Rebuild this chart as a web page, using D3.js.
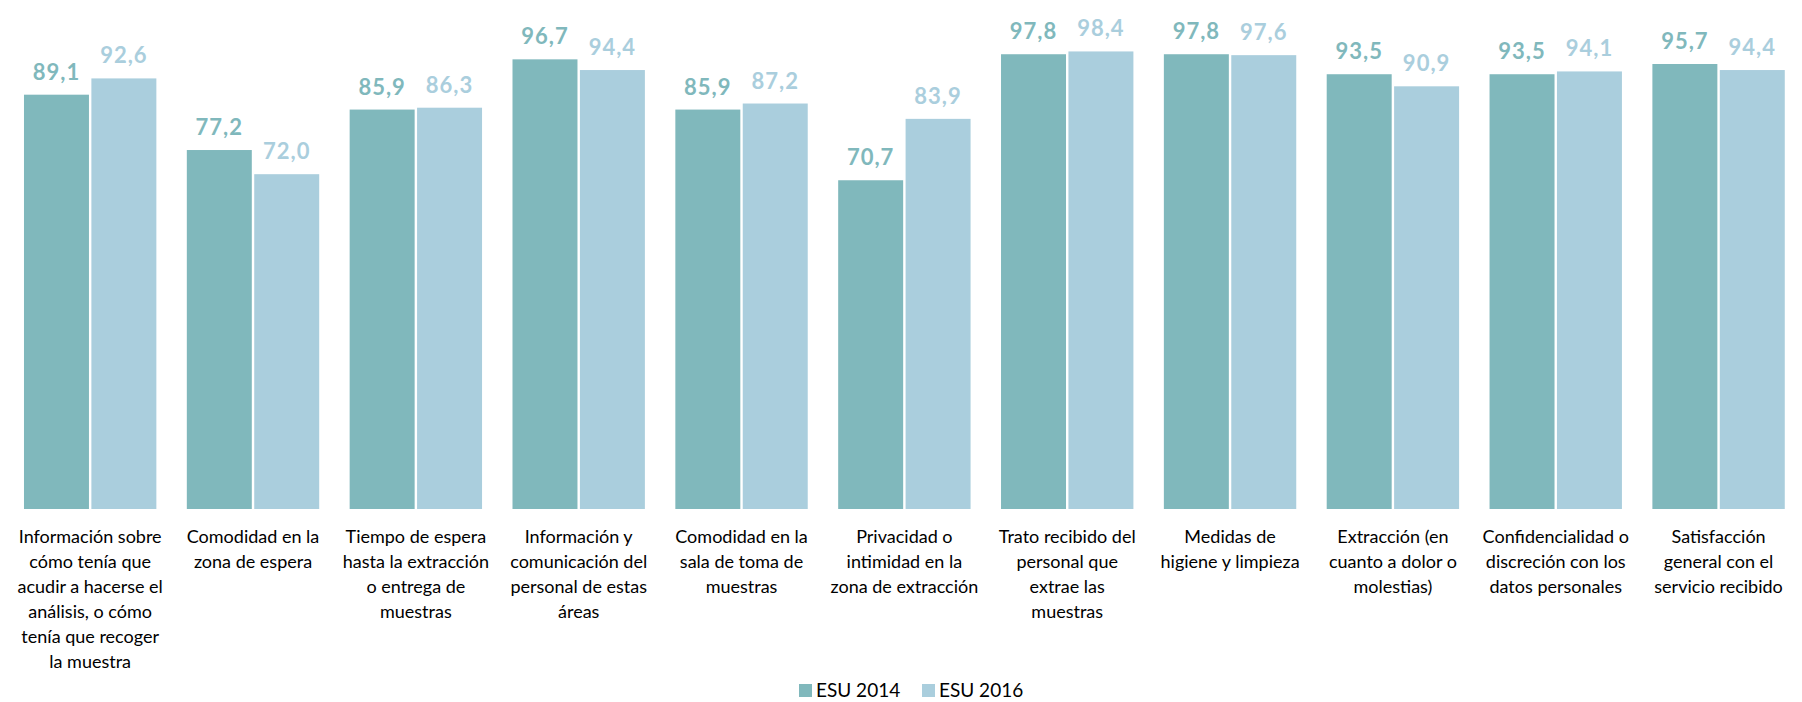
<!DOCTYPE html>
<html>
<head>
<meta charset="utf-8">
<script src="https://cdn.jsdelivr.net/npm/d3@7"></script>
<style>
  body { margin: 0; background: #fff; }
  svg { display: block; }
</style>
</head>
<body>
<svg width="1802" height="702"></svg>
<script>
// categories (already broken into lines like in the original)
var categories = [
  ["Información sobre", "cómo tenía que", "acudir a hacerse el", "análisis, o cómo", "tenía que recoger", "la muestra"],
  ["Comodidad en la", "zona de espera"],
  ["Tiempo de espera", "hasta la extracción", "o entrega de", "muestras"],
  ["Información y", "comunicación del", "personal de estas", "áreas"],
  ["Comodidad en la", "sala de toma de", "muestras"],
  ["Privacidad o", "intimidad en la", "zona de extracción"],
  ["Trato recibido del", "personal que", "extrae las", "muestras"],
  ["Medidas de", "higiene y limpieza"],
  ["Extracción (en", "cuanto a dolor o", "molestias)"],
  ["Confidencialidad o", "discreción con los", "datos personales"],
  ["Satisfacción", "general con el", "servicio recibido"]
];
var esu2014 = [89.1, 77.2, 85.9, 96.7, 85.9, 70.7, 97.8, 97.8, 93.5, 93.5, 95.7];
var esu2016 = [92.6, 72.0, 86.3, 94.4, 87.2, 83.9, 98.4, 97.6, 90.9, 94.1, 94.4];
var seriesNames = ["ESU 2014", "ESU 2016"];
var colors = ["#80B8BC", "#AACEDD"];

var svg = d3.select("svg");

var rows = categories.map(function(c, i) {
  return { idx: i, lines: c, values: [esu2014[i], esu2016[i]] };
});

var x = d3.scaleBand()
    .domain(d3.range(categories.length))
    .range([8.75, 1800])
    .paddingInner(0.187)
    .paddingOuter(0.0935);

var xs = d3.scaleBand()
    .domain([0, 1])
    .range([0, x.bandwidth()])
    .paddingInner(0.036);

var y = d3.scaleLinear()
    .domain([0, 100])
    .range([509, 44]);

function fmt(v) { return v.toFixed(1).replace(".", ","); }

var group = svg.append("g")
  .selectAll("g")
  .data(rows)
  .enter().append("g")
    .attr("transform", function(d) { return "translate(" + x(d.idx) + ",0)"; });

var bars = group.selectAll("rect")
  .data(function(d) { return d.values.map(function(v, s) { return { v: v, s: s }; }); })
  .enter().append("rect")
    .attr("x", function(d) { return xs(d.s); })
    .attr("y", function(d) { return y(d.v); })
    .attr("width", xs.bandwidth())
    .attr("height", function(d) { return y(0) - y(d.v); })
    .attr("fill", function(d) { return colors[d.s]; });

group.selectAll("text.val")
  .data(function(d) { return d.values.map(function(v, s) { return { v: v, s: s }; }); })
  .enter().append("text")
    .attr("class", "val")
    .attr("x", function(d) { return xs(d.s) + xs.bandwidth() / 2; })
    .attr("y", function(d) { return y(d.v) - 15; })
    .attr("text-anchor", "middle")
    .attr("fill", function(d) { return colors[d.s]; })
    .style("font-family", "Lato, 'Open Sans', sans-serif")
    .style("font-weight", "bold")
    .style("font-size", "22px")
    .style("letter-spacing", "1px")
    .text(function(d) { return fmt(d.v); });

// category labels
var cat = group.append("text")
    .attr("text-anchor", "middle")
    .attr("fill", "#000")
    .style("font-family", "Lato, 'Open Sans', sans-serif")
    .style("font-size", "18px");

cat.selectAll("tspan")
  .data(function(d) { return d.lines; })
  .enter().append("tspan")
    .attr("x", x.bandwidth() / 2)
    .attr("y", function(d, i) { return 543 + i * 25; })
    .text(function(d) { return d; });

// legend
var legend = svg.append("g")
  .selectAll("g")
  .data(seriesNames)
  .enter().append("g")
    .attr("transform", function(d, i) { return "translate(" + (799 + i * 123) + ",684)"; });

legend.append("rect")
    .attr("width", 13)
    .attr("height", 13)
    .attr("fill", function(d, i) { return colors[i]; });

legend.append("text")
    .attr("x", 17)
    .attr("y", 13)
    .attr("fill", "#000")
    .style("font-family", "Lato, 'Open Sans', sans-serif")
    .style("font-size", "19px")
    .text(function(d) { return d; });
</script>
</body>
</html>
